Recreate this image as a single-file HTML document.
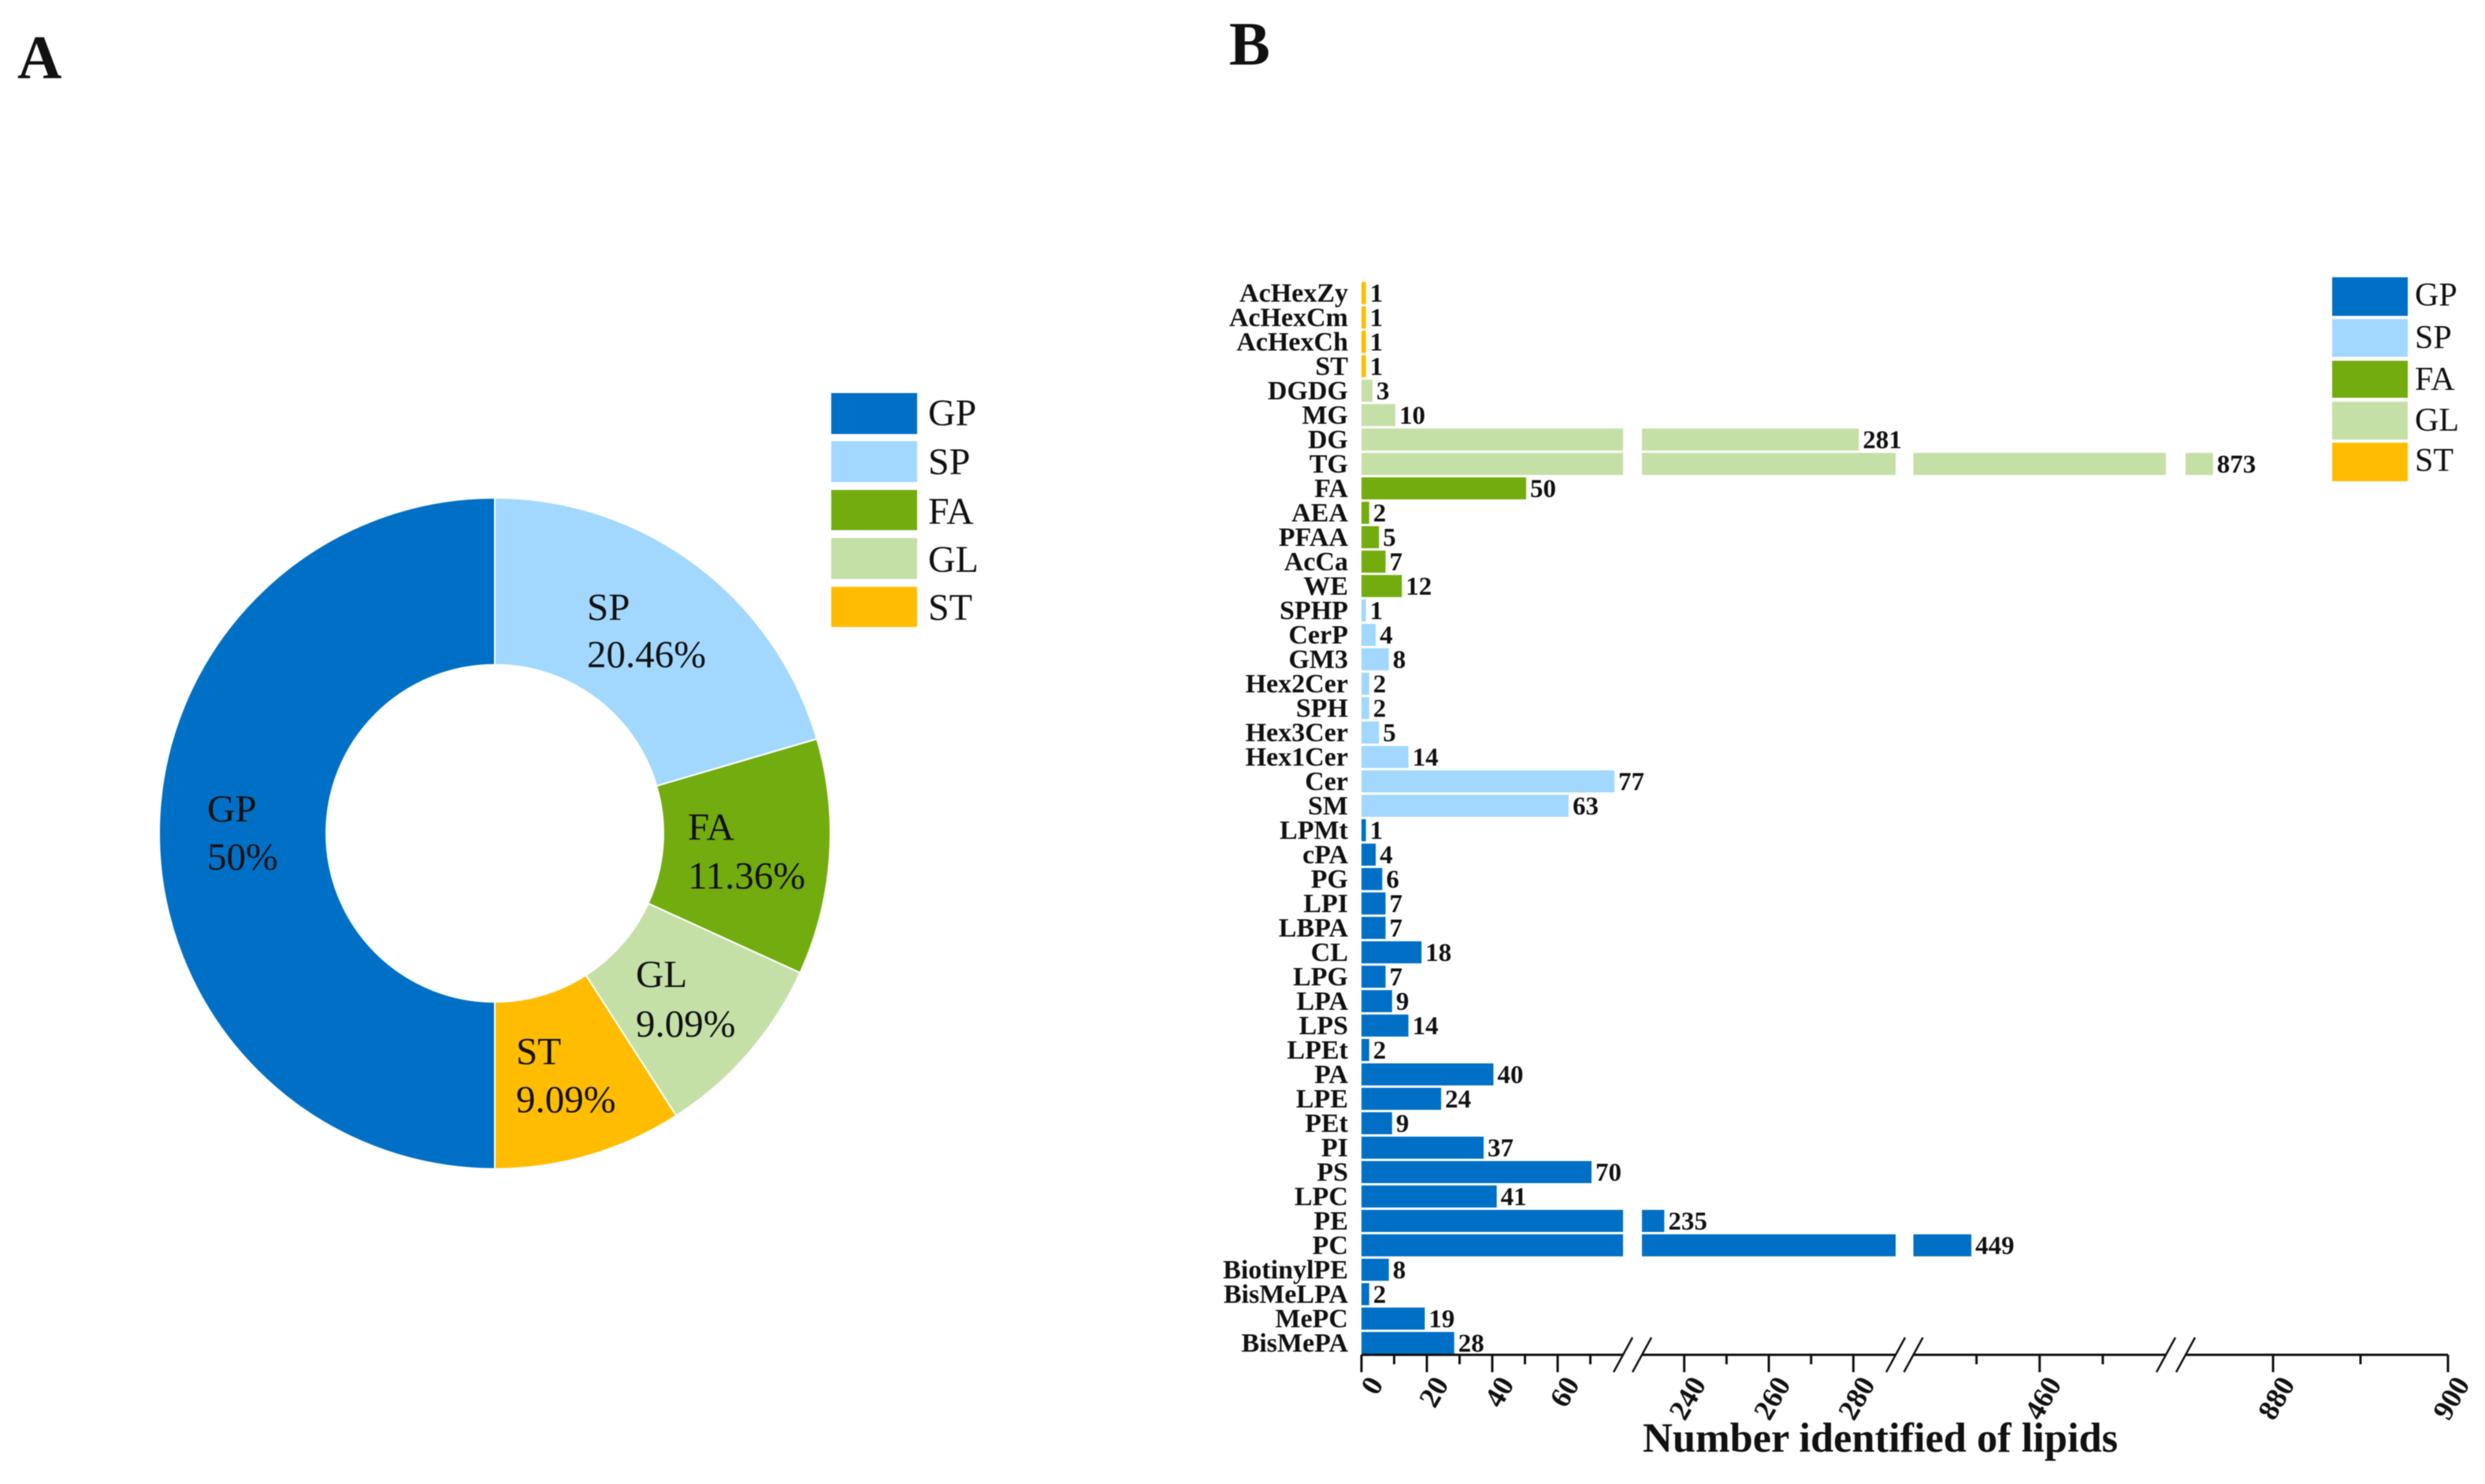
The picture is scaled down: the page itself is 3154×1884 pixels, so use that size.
<!DOCTYPE html>
<html lang="en">
<head>
<meta charset="utf-8">
<title>Lipid class composition and identified lipid counts</title>
<style>
  html, body { margin: 0; padding: 0; background: #ffffff; }
  svg { display: block; filter: blur(0.6px); }
  text { font-family: "Liberation Serif", "Times New Roman", serif; fill: #111111; }
  .bold { font-weight: 700; }
</style>
</head>
<body>
<svg id="figure" xmlns="http://www.w3.org/2000/svg" width="3154" height="1884" viewBox="0 0 3154 1884">
  <rect x="0" y="0" width="3154" height="1884" fill="#ffffff"/>
  <text class="bold" x="22" y="99" font-size="78">A</text>
  <text class="bold" x="1560" y="82" font-size="78">B</text>

  <g id="donut"></g>
  <g font-size="49">
    <text x="263" y="1043">GP</text>
    <text x="263" y="1104">50%</text>
    <text x="745" y="787">SP</text>
    <text x="745" y="847">20.46%</text>
    <text x="873" y="1066">FA</text>
    <text x="873" y="1128">11.36%</text>
    <text x="807" y="1253">GL</text>
    <text x="807" y="1316">9.09%</text>
    <text x="655" y="1351">ST</text>
    <text x="655" y="1412">9.09%</text>
  </g>

  <g font-size="48">
    <rect x="1055" y="499" width="109" height="52" fill="#0070c6"/>
    <text x="1178" y="540">GP</text>
    <rect x="1055" y="560" width="109" height="52" fill="#a2d8fd"/>
    <text x="1178" y="602">SP</text>
    <rect x="1055" y="622" width="109" height="51" fill="#73ac0e"/>
    <text x="1178" y="665">FA</text>
    <rect x="1055" y="683" width="109" height="52" fill="#c5e0a7"/>
    <text x="1178" y="726">GL</text>
    <rect x="1055" y="745" width="109" height="51" fill="#ffbc00"/>
    <text x="1178" y="787">ST</text>
  </g>

  <g id="bars"></g>
  <g id="axis"></g>
  <text class="bold" x="2085" y="1843" font-size="52.4">Number identified of lipids</text>

  <g font-size="42">
    <rect x="2960" y="352" width="96" height="49" fill="#0070c6"/>
    <text x="3065" y="388">GP</text>
    <rect x="2960" y="405" width="96" height="48" fill="#a2d8fd"/>
    <text x="3065" y="442">SP</text>
    <rect x="2960" y="458" width="96" height="47" fill="#73ac0e"/>
    <text x="3065" y="495">FA</text>
    <rect x="2960" y="510" width="96" height="48" fill="#c5e0a7"/>
    <text x="3065" y="547">GL</text>
    <rect x="2960" y="562" width="96" height="49" fill="#ffbc00"/>
    <text x="3065" y="598">ST</text>
  </g>
</svg>

<script>
// ---- Chart data ----
const shareCategories = ['GP', 'SP', 'FA', 'GL', 'ST'];
const shareValues = [50, 20.46, 11.36, 9.09, 9.09];

const lipidClasses = ['AcHexZy','AcHexCm','AcHexCh','ST','DGDG','MG','DG','TG','FA','AEA','PFAA','AcCa','WE','SPHP','CerP','GM3','Hex2Cer','SPH','Hex3Cer','Hex1Cer','Cer','SM','LPMt','cPA','PG','LPI','LBPA','CL','LPG','LPA','LPS','LPEt','PA','LPE','PEt','PI','PS','LPC','PE','PC','BiotinylPE','BisMeLPA','MePC','BisMePA'];
const lipidCounts = [1,1,1,1,3,10,281,873,50,2,5,7,12,1,4,8,2,2,5,14,77,63,1,4,6,7,7,18,7,9,14,2,40,24,9,37,70,41,235,449,8,2,19,28];
const lipidGroups = ['ST','ST','ST','ST','GL','GL','GL','GL','FA','FA','FA','FA','FA','SP','SP','SP','SP','SP','SP','SP','SP','SP','GP','GP','GP','GP','GP','GP','GP','GP','GP','GP','GP','GP','GP','GP','GP','GP','GP','GP','GP','GP','GP','GP'];
const majorTickValues = [0, 20, 40, 60, 240, 260, 280, 460, 880, 900];
const minorTickValues = [10, 30, 50, 70, 250, 270, 450, 470, 890];

// ---- Styling and layout ----
const groupColors = { GP: '#0070c6', SP: '#a2d8fd', FA: '#73ac0e', GL: '#c5e0a7', ST: '#ffbc00' };
const NS = 'http://www.w3.org/2000/svg';

function make(tag, attrs, parent) {
  const el = document.createElementNS(NS, tag);
  for (const k in attrs) el.setAttribute(k, attrs[k]);
  parent.appendChild(el);
  return el;
}

// ---- Donut: GP occupies the left half, the rest run clockwise from 12 o'clock ----
const donutGroup = document.getElementById('donut');
const cx = 628, cy = 1058, rOuter = 426, rInner = 214;
function polar(r, a) {
  return [cx + r * Math.sin(a), cy - r * Math.cos(a)];
}
function arcPath(a0, a1) {
  const large = a1 - a0 > Math.PI ? 1 : 0;
  const p0 = polar(rOuter, a0), p1 = polar(rOuter, a1), p2 = polar(rInner, a1), p3 = polar(rInner, a0);
  return 'M' + p0[0] + ' ' + p0[1] +
    ' A' + rOuter + ' ' + rOuter + ' 0 ' + large + ' 1 ' + p1[0] + ' ' + p1[1] +
    ' L' + p2[0] + ' ' + p2[1] +
    ' A' + rInner + ' ' + rInner + ' 0 ' + large + ' 0 ' + p3[0] + ' ' + p3[1] + ' Z';
}
const shareTotal = shareValues.reduce(function (s, v) { return s + v; }, 0);
let angle = Math.PI;
shareValues.forEach(function (v, i) {
  const next = angle + (v / shareTotal) * Math.PI * 2;
  const slice = make('path', { d: arcPath(angle, next), fill: groupColors[shareCategories[i]], stroke: '#ffffff', 'stroke-width': 2 }, donutGroup);
  
  
  angle = next;
});

// ---- Broken x axis: each piece maps a value range to a pixel range ----
const axisPieces = [
  { d0: 0,   d1: 80,  r0: 1728,   r1: 2060 },
  { d0: 230, d1: 290, r0: 2084,   r1: 2406 },
  { d0: 440, d1: 480, r0: 2428.5, r1: 2749 },
  { d0: 870, d1: 900, r0: 2774,   r1: 3107 }
];
function xInPiece(p, v) {
  return p.r0 + (v - p.d0) / (p.d1 - p.d0) * (p.r1 - p.r0);
}
function xScale(v) {
  for (const p of axisPieces) {
    if (v <= p.d1) return xInPiece(p, Math.max(v, p.d0));
  }
  return axisPieces[axisPieces.length - 1].r1;
}
const rowTop = 372, rowStep = 31, barHeight = 28, axisY = 1720, barEndPad = 1.5;
function yScale(i) {
  return rowTop + rowStep * i;
}

// ---- Bars ----
const barsGroup = document.getElementById('bars');
lipidClasses.forEach(function (name, i) {
  const value = lipidCounts[i];
  const yc = yScale(i);
  const color = groupColors[lipidGroups[i]];
  const slug = name.toLowerCase();

  const label = make('text', { x: 1711, y: yc + 11, 'text-anchor': 'end', 'font-size': 34, class: 'bold' }, barsGroup);
  label.textContent = name;
  
  

  let barEnd = axisPieces[0].r0;
  axisPieces.forEach(function (p, k) {
    if (value <= p.d0 && k > 0) return;
    const capped = value >= p.d1;
    const x1 = xInPiece(p, Math.min(value, p.d1)) + (capped ? 0 : barEndPad);
    const seg = make('rect', { x: p.r0, y: yc - barHeight / 2, width: x1 - p.r0, height: barHeight, fill: color }, barsGroup);
    
    
    barEnd = x1;
  });

  const printed = make('text', { x: barEnd + 5, y: yc + 11, 'font-size': 33, class: 'bold' }, barsGroup);
  printed.textContent = String(value);
  
  
});

// ---- Axis ----
const axisGroup = document.getElementById('axis');
axisPieces.forEach(function (p, k) {
  const line = make('line', { x1: p.r0, x2: p.r1, y1: axisY, y2: axisY, stroke: '#111111', 'stroke-width': 3 }, axisGroup);
  
  

  if (k > 0) {
    const startSlash = make('line', { x1: p.r0 - 12, y1: axisY + 22, x2: p.r0 + 12, y2: axisY - 22, stroke: '#111111', 'stroke-width': 2.5 }, axisGroup);
    
    
  }
  if (k < axisPieces.length - 1) {
    const endSlash = make('line', { x1: p.r1 - 12, y1: axisY + 22, x2: p.r1 + 12, y2: axisY - 22, stroke: '#111111', 'stroke-width': 2.5 }, axisGroup);
    
    
  }
});
majorTickValues.forEach(function (v) {
  const x = xScale(v);
  const tick = make('line', { x1: x, x2: x, y1: axisY, y2: axisY + 22, stroke: '#111111', 'stroke-width': 3 }, axisGroup);
  
  

  const lx = x + 18, ly = axisY + 31;
  const t = make('text', { x: 0, y: 0, dy: '0.33em', 'text-anchor': 'end', 'font-size': 37, class: 'bold', transform: 'translate(' + lx + ' ' + ly + ') rotate(-60)' }, axisGroup);
  t.textContent = String(v);
  
  
});
minorTickValues.forEach(function (v) {
  const x = xScale(v);
  const tick = make('line', { x1: x, x2: x, y1: axisY, y2: axisY + 12, stroke: '#111111', 'stroke-width': 3 }, axisGroup);
  
  
});
</script>
</body>
</html>
